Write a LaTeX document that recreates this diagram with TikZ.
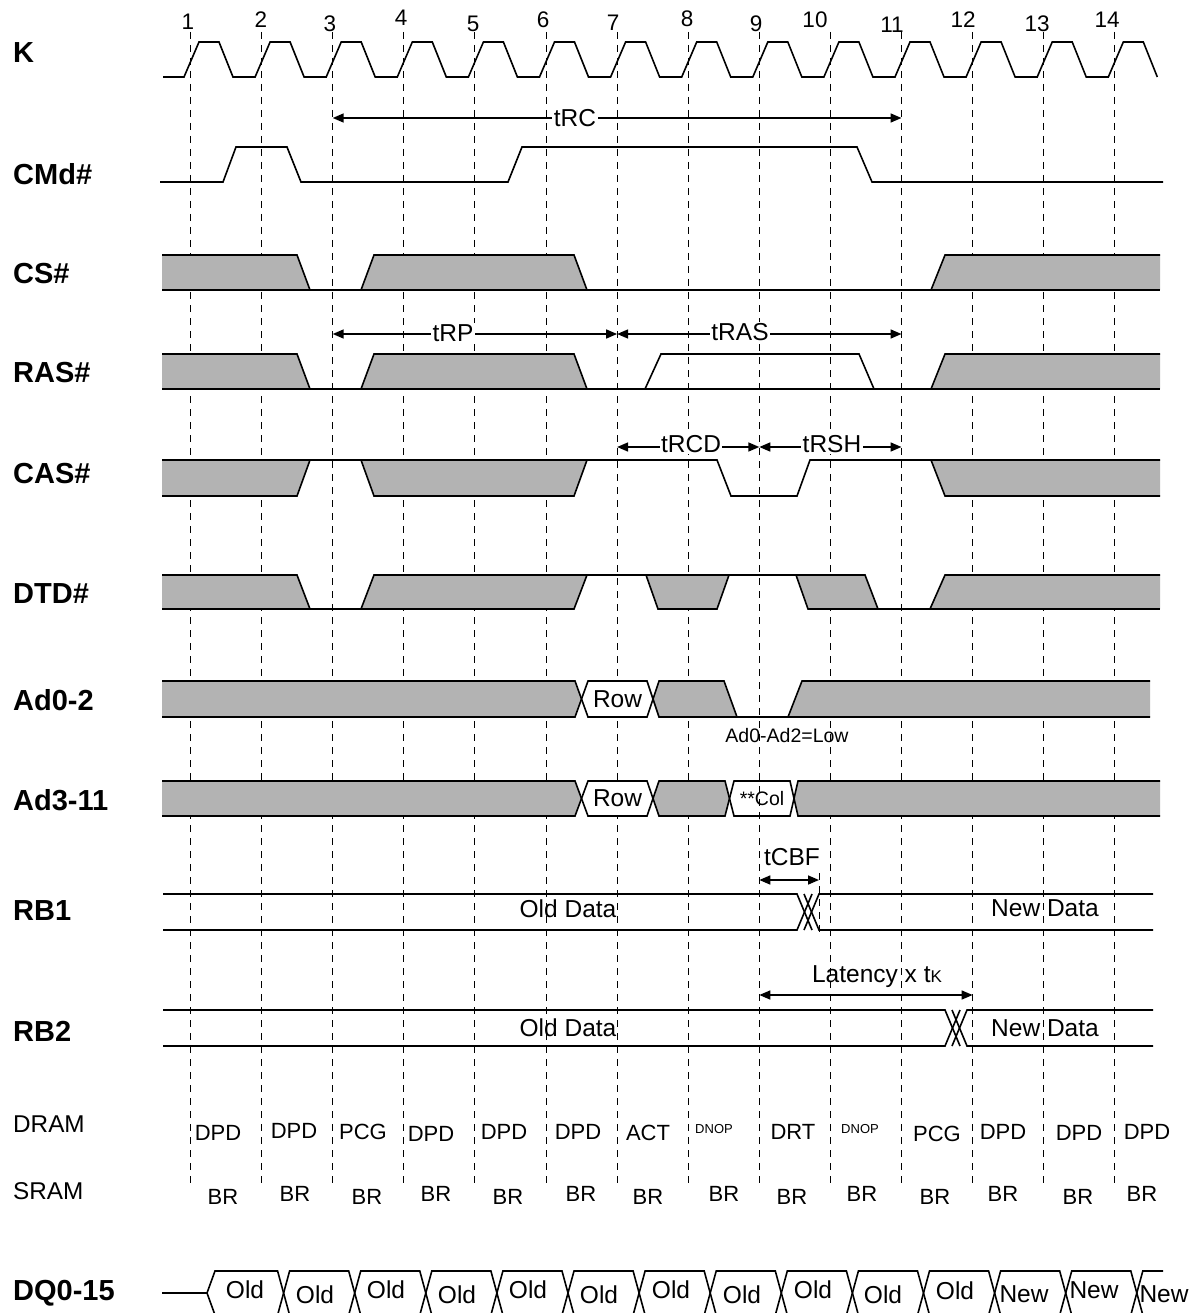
\documentclass[tikz,border=0pt]{standalone}
\usepackage{fontspec}
\setmainfont{Liberation Sans}
\usetikzlibrary{arrows.meta}
\definecolor{siggray}{HTML}{B3B3B3}
\begin{document}
\begin{tikzpicture}[x=1pt,y=-1pt,
  sigline/.style={line width=1.6pt, line join=miter},
  gridline/.style={line width=1pt, dash pattern=on 7pt off 6pt},
  lbl/.style={font=\fontsize{29}{30}\bfseries, anchor=west, inner sep=0pt},
  lblr/.style={font=\fontsize{24.3}{25}\selectfont, anchor=west, inner sep=0pt},
  num/.style={font=\fontsize{22.5}{23}\selectfont, inner sep=0pt},
  txt/.style={font=\fontsize{24.5}{25}\selectfont, inner sep=0pt},
  cmd/.style={font=\fontsize{22}{23}\selectfont, inner sep=0pt},
  tinytxt/.style={font=\fontsize{13}{14}\selectfont, inner sep=0pt},
  tlabel/.style={font=\fontsize{24.5}{25}\selectfont, fill=white, inner sep=1.5pt},
  dimarrow/.style={line width=1.6pt, {Triangle[length=11pt,width=9pt]}-{Triangle[length=11pt,width=9pt]}},
]
\useasboundingbox (0,0) rectangle (1201,1313);
\clip (0,0) rectangle (1201,1313);

% ---- grid lines ----
\foreach \i in {0,...,13} {
  \draw[gridline] ({190.5+71.1*\i},32) -- ({190.5+71.1*\i},1183);
}

% ---- cycle numbers ----
\node[num] (n1) at (188,22) {1};
\node[num] (n2) at (261,20) {2};
\node[num] (n3) at (330,24) {3};
\node[num] (n4) at (401,18) {4};
\node[num] (n5) at (473,24) {5};
\node[num] (n6) at (543,20) {6};
\node[num] (n7) at (613,23) {7};
\node[num] (n8) at (687,19) {8};
\node[num] (n9) at (756,24) {9};
\node[num] (n10) at (815,20) {10};
\node[num] (n11) at (892,25) {11};
\node[num] (n12) at (963,20) {12};
\node[num] (n13) at (1037,24) {13};
\node[num] (n14) at (1107,20) {14};

% ---- left labels ----
\node[lbl] (lK) at (13,53) {K};
\node[lbl] (lCMd) at (13,174) {CMd\#};
\node[lbl] (lCS) at (13,274) {CS\#};
\node[lbl] (lRAS) at (13,373) {RAS\#};
\node[lbl] (lCAS) at (13,474) {CAS\#};
\node[lbl] (lDTD) at (13,594) {DTD\#};
\node[lbl] (lAd02) at (13,700) {Ad0-2};
\node[lbl] (lAd311) at (13,800) {Ad3-11};
\node[lbl] (lRB1) at (13,911) {RB1};
\node[lbl] (lRB2) at (13,1031) {RB2};
\node[lblr] (lDRAM) at (13,1124) {DRAM};
\node[lblr] (lSRAM) at (13,1191) {SRAM};
\node[lbl] (lDQ) at (13,1293) {DQ0-15};

% ---- K clock ----
\draw[sigline] (163,77) \foreach \i in {0,...,13} {
  -- ({184+71.1*\i},77) -- ({199+71.1*\i},42) -- ({219+71.1*\i},42) -- ({233+71.1*\i},77) };

% ---- CMd# ----
\draw[sigline] (160,182) -- (223,182) -- (236,147) -- (287,147) -- (301,182) -- (508,182)
  -- (522,147) -- (857,147) -- (872,182) -- (1163,182);

% ---- CS# ----
\fill[siggray] (162,255) -- (297,255) -- (310,290) -- (162,290) -- cycle;
\fill[siggray] (361,290) -- (374,255) -- (574,255) -- (587,290) -- cycle;
\fill[siggray] (931,290) -- (945,255) -- (1160,255) -- (1160,290) -- cycle;
\draw[sigline] (162,255) -- (297,255) -- (310,290);
\draw[sigline] (361,290) -- (374,255) -- (574,255) -- (587,290);
\draw[sigline] (931,290) -- (945,255) -- (1160,255);
\draw[sigline] (162,290) -- (1160,290);

% ---- RAS# ----
\fill[siggray] (162,354) -- (297,354) -- (310,389) -- (162,389) -- cycle;
\fill[siggray] (361,389) -- (374,354) -- (574,354) -- (587,389) -- cycle;
\fill[siggray] (931,389) -- (945,354) -- (1160,354) -- (1160,389) -- cycle;
\draw[sigline] (162,354) -- (297,354) -- (310,389);
\draw[sigline] (361,389) -- (374,354) -- (574,354) -- (587,389);
\draw[sigline] (645,389) -- (661,354) -- (859,354) -- (874,389);
\draw[sigline] (931,389) -- (945,354) -- (1160,354);
\draw[sigline] (162,389) -- (1160,389);

% ---- CAS# ----
\fill[siggray] (162,460) -- (310,460) -- (297,496) -- (162,496) -- cycle;
\fill[siggray] (361,460) -- (587,460) -- (574,496) -- (374,496) -- cycle;
\fill[siggray] (931,460) -- (1160,460) -- (1160,496) -- (945,496) -- cycle;
\draw[sigline] (162,496) -- (297,496) -- (310,460);
\draw[sigline] (361,460) -- (374,496) -- (574,496) -- (587,460);
\draw[sigline] (931,460) -- (945,496) -- (1160,496);
\draw[sigline] (162,460) -- (717,460) -- (731,496) -- (797,496) -- (810,460) -- (1160,460);

% ---- DTD# ----
\fill[siggray] (162,575) -- (297,575) -- (310,609) -- (162,609) -- cycle;
\fill[siggray] (361,609) -- (374,575) -- (587,575) -- (574,609) -- cycle;
\fill[siggray] (646,575) -- (729,575) -- (717,609) -- (658,609) -- cycle;
\fill[siggray] (796,575) -- (865,575) -- (878,609) -- (808,609) -- cycle;
\fill[siggray] (930,609) -- (945,575) -- (1160,575) -- (1160,609) -- cycle;
\draw[sigline] (162,575) -- (297,575) -- (310,609) -- (361,609) -- (374,575) -- (865,575)
  -- (878,609) -- (930,609) -- (945,575) -- (1160,575);
\draw[sigline] (162,609) -- (574,609) -- (587,575);
\draw[sigline] (646,575) -- (658,609) -- (717,609) -- (729,575);
\draw[sigline] (796,575) -- (808,609) -- (878,609);
\draw[sigline] (930,609) -- (1160,609);

% ---- Ad0-2 ----
\fill[siggray] (162,681) -- (575,681) -- (581.5,699) -- (575,717) -- (162,717) -- cycle;
\fill[siggray] (659,681) -- (724,681) -- (737,717) -- (659,717) -- (653,699) -- cycle;
\fill[siggray] (788,717) -- (802,681) -- (1150,681) -- (1150,717) -- cycle;
\fill[white] (588,681) -- (647,681) -- (653,699) -- (647,717) -- (588,717) -- (581.5,699) -- cycle;
\draw[sigline] (162,681) -- (575,681) -- (588,717) -- (647,717) -- (659,681) -- (724,681)
  -- (737,717) -- (788,717) -- (802,681) -- (1150,681);
\draw[sigline] (162,717) -- (575,717) -- (588,681) -- (647,681) -- (659,717) -- (1150,717);
\node[txt] (row1) at (617.5,699) {Row};
\node[font=\fontsize{19.5}{20}\selectfont, inner sep=0pt] (adlow) at (787,736) {Ad0-Ad2=Low};

% ---- Ad3-11 ----
\fill[siggray] (162,781) -- (575,781) -- (581.5,798.5) -- (575,816) -- (162,816) -- cycle;
\fill[siggray] (659,781) -- (725,781) -- (729.5,798.5) -- (725,816) -- (659,816) -- (653,798.5) -- cycle;
\fill[siggray] (798,781) -- (1160,781) -- (1160,816) -- (798,816) -- (794,798.5) -- cycle;
\fill[white] (588,781) -- (647,781) -- (653,798.5) -- (647,816) -- (588,816) -- (581.5,798.5) -- cycle;
\draw[sigline] (162,781) -- (575,781) -- (588,816) -- (647,816) -- (659,781) -- (725,781)
  -- (734,816) -- (790,816) -- (798,781) -- (1160,781);
\draw[sigline] (162,816) -- (575,816) -- (588,781) -- (647,781) -- (659,816) -- (725,816)
  -- (734,781) -- (790,781) -- (798,816) -- (1160,816);
\node[txt] (row2) at (617.5,798.5) {Row};
\node[font=\fontsize{19.5}{20}\selectfont, inner sep=0pt] (col) at (762,798.5) {**Col};

% ---- RB1 ----
\draw[sigline] (163,894) -- (797,894) -- (812,930);
\draw[sigline] (804,894) -- (819,930) -- (1153,930);
\draw[sigline] (163,930) -- (797,930) -- (812,894);
\draw[sigline] (804,930) -- (819,894) -- (1153,894);
\node[txt] (od1) at (568,909) {Old Data};
\node[txt] (nd1) at (1045,908) {New Data};

% ---- RB2 ----
\draw[sigline] (163,1010) -- (945,1010) -- (960,1046);
\draw[sigline] (952,1010) -- (967,1046) -- (1153,1046);
\draw[sigline] (163,1046) -- (945,1046) -- (960,1010);
\draw[sigline] (952,1046) -- (967,1010) -- (1153,1010);
\node[txt] (od2) at (568,1028) {Old Data};
\node[txt] (nd2) at (1045,1028) {New Data};

% ---- timing arrows ----
\coordinate (c3a) at (332.7,118);
\coordinate (c11a) at (901.5,118);
\draw[dimarrow] (c3a) -- (c11a);
\node[tlabel] (tRC) at (575,118) {tRC};

\coordinate (c3b) at (332.7,334);
\coordinate (c7b) at (617.1,334);
\coordinate (c11b) at (901.5,334);
\draw[dimarrow] (c3b) -- (c7b);
\draw[dimarrow] (c7b) -- (c11b);
\node[tlabel] (tRP) at (453,333) {tRP};
\node[tlabel] (tRAS) at (740,332) {tRAS};

\coordinate (c7c) at (617.1,447);
\coordinate (c9c) at (759.3,447);
\coordinate (c11c) at (901.5,447);
\draw[dimarrow] (c7c) -- (c9c);
\draw[dimarrow] (c9c) -- (c11c);
\node[tlabel] (tRCD) at (691,444) {tRCD};
\node[tlabel] (tRSH) at (832,444) {tRSH};

\coordinate (c9d) at (759.3,880);
\coordinate (cbfE) at (819,880);
\coordinate (cbfTop) at (819,873);
\coordinate (cbfBot) at (819,937);
\draw[gridline] (cbfTop) -- (cbfBot);
\draw[dimarrow] (c9d) -- (cbfE);
\node[txt] (tCBF) at (792,857) {tCBF};

\coordinate (c9e) at (759.3,995);
\coordinate (c12e) at (972.6,995);
\draw[dimarrow] (c9e) -- (c12e);
\node[txt] (lat) at (877,977) {Latency x t{\fontsize{17}{17}\selectfont K}};

% ---- DRAM row ----
\node[cmd] (d1) at (218,1133) {DPD};
\node[cmd] (d2) at (294,1131) {DPD};
\node[cmd] (d3) at (363,1132) {PCG};
\node[cmd] (d4) at (431,1134) {DPD};
\node[cmd] (d5) at (504,1132) {DPD};
\node[cmd] (d6) at (578,1132) {DPD};
\node[cmd] (d7) at (648,1133) {ACT};
\node[tinytxt] (d8) at (714,1129) {DNOP};
\node[cmd] (d9) at (793,1132) {DRT};
\node[tinytxt] (d10) at (860,1129) {DNOP};
\node[cmd] (d11) at (937,1134) {PCG};
\node[cmd] (d12) at (1003,1132) {DPD};
\node[cmd] (d13) at (1079,1133) {DPD};
\node[cmd] (d14) at (1147,1132) {DPD};

% ---- SRAM row ----
\node[cmd] (s1) at (223,1197) {BR};
\node[cmd] (s2) at (295,1194) {BR};
\node[cmd] (s3) at (367,1197) {BR};
\node[cmd] (s4) at (436,1194) {BR};
\node[cmd] (s5) at (508,1197) {BR};
\node[cmd] (s6) at (581,1194) {BR};
\node[cmd] (s7) at (648,1197) {BR};
\node[cmd] (s8) at (724,1194) {BR};
\node[cmd] (s9) at (792,1197) {BR};
\node[cmd] (s10) at (862,1194) {BR};
\node[cmd] (s11) at (935,1197) {BR};
\node[cmd] (s12) at (1003,1194) {BR};
\node[cmd] (s13) at (1078,1197) {BR};
\node[cmd] (s14) at (1142,1194) {BR};

% ---- DQ0-15 ----
\draw[sigline] (162,1293) -- (207,1293);
\draw[sigline] (207,1293) -- (215,1271) -- (277.6,1271) -- (289.6,1315) -- (348.7,1315) -- (360.7,1271)
  -- (419.8,1271) -- (431.8,1315) -- (490.9,1315) -- (502.9,1271) -- (562,1271) -- (574,1315)
  -- (633.1,1315) -- (645.1,1271) -- (704.2,1271) -- (716.2,1315) -- (775.3,1315) -- (787.3,1271)
  -- (846.4,1271) -- (858.4,1315) -- (917.5,1315) -- (929.5,1271) -- (988.6,1271) -- (1000.6,1315)
  -- (1059.7,1315) -- (1071.7,1271) -- (1130.8,1271) -- (1142.8,1315) -- (1163,1315);
\draw[sigline] (207,1293) -- (215,1315) -- (277.6,1315) -- (289.6,1271) -- (348.7,1271) -- (360.7,1315)
  -- (419.8,1315) -- (431.8,1271) -- (490.9,1271) -- (502.9,1315) -- (562,1315) -- (574,1271)
  -- (633.1,1271) -- (645.1,1315) -- (704.2,1315) -- (716.2,1271) -- (775.3,1271) -- (787.3,1315)
  -- (846.4,1315) -- (858.4,1271) -- (917.5,1271) -- (929.5,1315) -- (988.6,1315) -- (1000.6,1271)
  -- (1059.7,1271) -- (1071.7,1315) -- (1130.8,1315) -- (1142.8,1271) -- (1163,1271);
\node[txt] (q1) at (245,1290) {Old};
\node[txt] (q2) at (315,1295) {Old};
\node[txt] (q3) at (386,1290) {Old};
\node[txt] (q4) at (457,1295) {Old};
\node[txt] (q5) at (528,1290) {Old};
\node[txt] (q6) at (599,1295) {Old};
\node[txt] (q7) at (671,1290) {Old};
\node[txt] (q8) at (742,1295) {Old};
\node[txt] (q9) at (813,1290) {Old};
\node[txt] (q10) at (883,1295) {Old};
\node[txt] (q11) at (955,1291) {Old};
\node[txt] (q12) at (1024,1294) {New};
\node[txt] (q13) at (1094,1290) {New};
\node[txt] (q14) at (1164,1294) {New};
\end{tikzpicture}
\end{document}
